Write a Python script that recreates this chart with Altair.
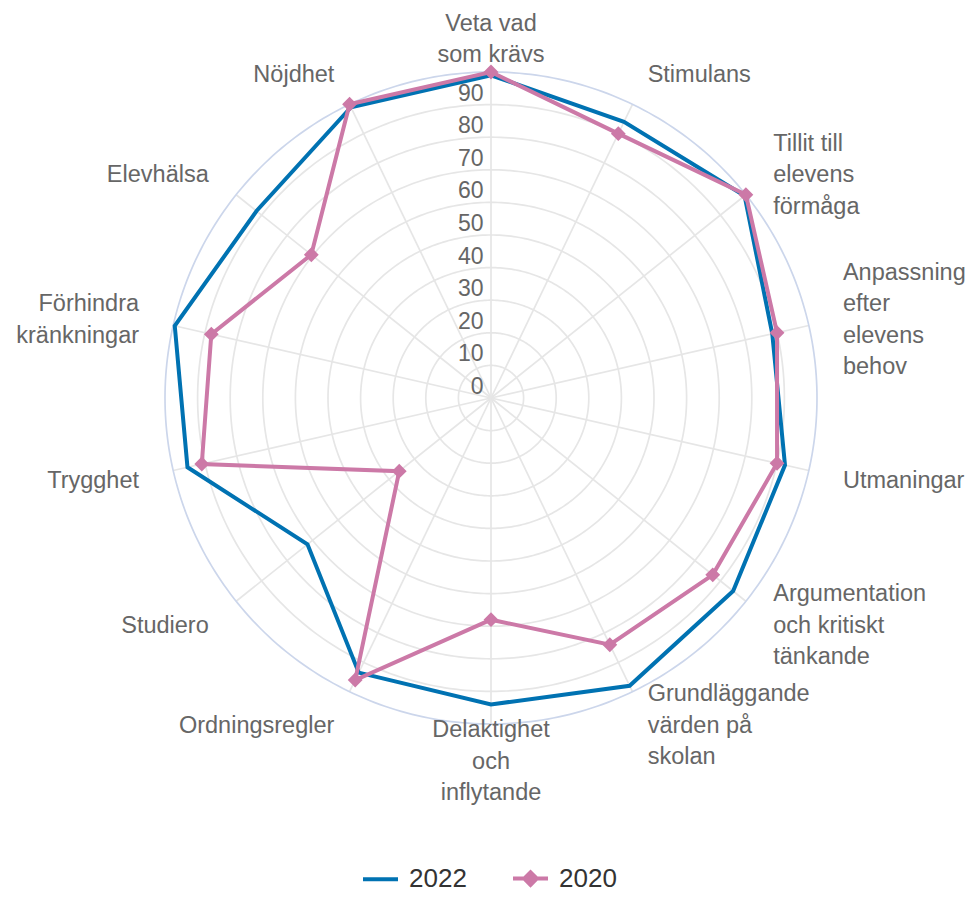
import altair as alt
import pandas as pd

# ---------------- data ----------------
categories = [
    "Veta vad som krävs", "Stimulans", "Tillit till elevens förmåga",
    "Anpassning efter elevens behov", "Utmaningar",
    "Argumentation och kritiskt tänkande", "Grundläggande värden på skolan",
    "Delaktighet och inflytande", "Ordningsregler", "Studiero", "Trygghet",
    "Förhindra kränkningar", "Elevhälsa", "Nöjdhet",
]
category_labels = [
    "Veta vad\nsom krävs", "Stimulans", "Tillit till\nelevens\nförmåga",
    "Anpassning\nefter\nelevens\nbehov", "Utmaningar",
    "Argumentation\noch kritiskt\ntänkande", "Grundläggande\nvärden på\nskolan",
    "Delaktighet\noch\ninflytande", "Ordningsregler", "Studiero", "Trygghet",
    "Förhindra\nkränkningar", "Elevhälsa", "Nöjdhet",
]
values_2022 = [99, 94, 99.5, 88.5, 92.5, 95, 98, 94, 93.5, 72, 95.5, 99.5, 92, 99]
values_2020 = [100, 90, 100, 90, 90, 87, 84, 68, 96, 36, 91, 88, 70.5, 100]
series_names = ["2022", "2020"]
series_colors = ["#0072b2", "#cc79a7"]
ring_values = [10, 20, 30, 40, 50, 60, 70, 80, 90]
axis_max = [100]
tick_values = [0, 10, 20, 30, 40, 50, 60, 70, 80, 90]

# ---------------- geometry ----------------
K = 3.26           # pixels per unit
W, H = 957, 884
CX, CY = 483, 390  # centre in plot coordinates
R_LABEL = 361 / K
LINE_H = 31.5
n = len(categories)

xscale = alt.Scale(domain=[-CX / K, (W - CX) / K], nice=False, zero=False)
yscale = alt.Scale(domain=[-(H - CY) / K, CY / K], nice=False, zero=False)
X = alt.X("px:Q", scale=xscale, axis=None)
Y = alt.Y("py:Q", scale=yscale, axis=None)

color_scale = alt.Scale(domain=series_names, range=series_colors)
shape_scale = alt.Scale(
    domain=series_names,
    range=["M-1,0L1,0", "M-1,0L1,0M-0.36,0L0,-0.36L0.36,0L0,0.36Z"],
)

leg = alt.Legend(
    title=None, orient="none", legendX=353, legendY=851,
    direction="horizontal", symbolSize=1225, symbolStrokeWidth=4,
    labelFontSize=26, labelColor="#333333", labelFont="Liberation Sans",
    columnPadding=38, labelOffset=9, padding=0,
)

rows = []
for s, vals in zip(series_names, [values_2022, values_2020]):
    for i, (c, v) in enumerate(zip(categories, vals)):
        rows.append({"series": s, "category": c, "idx": i, "value": v})
df = pd.DataFrame(rows)

cat_df = pd.DataFrame({
    "idx": list(range(n)),
    "label": category_labels,
    "nlines": [lab.count("\n") + 1 for lab in category_labels],
})

ANG = f"datum.idx * 2 * PI / {n}"

# rings
def rings(vals, color):
    return (
        alt.Chart(pd.DataFrame({"r": vals}))
        .transform_calculate(deg="sequence(0, 361, 1)")
        .transform_flatten(["deg"])
        .transform_calculate(
            px="datum.r * sin(datum.deg * PI / 180)",
            py="datum.r * cos(datum.deg * PI / 180)",
        )
        .mark_line(color=color, strokeWidth=1.7)
        .encode(x=X, y=Y, detail="r:N", order="deg:Q")
    )

grid_rings = rings(ring_values, "#e6e6e6")
outer_ring = rings(axis_max, "#ccd6eb")

spokes = (
    alt.Chart(cat_df)
    .transform_calculate(ang=ANG)
    .transform_calculate(
        x0="0", y0="0",
        px=f"{axis_max[0]} * sin(datum.ang)",
        py=f"{axis_max[0]} * cos(datum.ang)",
    )
    .mark_rule(color="#e6e6e6", strokeWidth=1.7)
    .encode(
        x=alt.X("x0:Q", scale=xscale, axis=None),
        y=alt.Y("y0:Q", scale=yscale, axis=None),
        x2="px:Q",
        y2="py:Q",
    )
)

ticks = (
    alt.Chart(pd.DataFrame({"v": tick_values}))
    .transform_calculate(px="0", py="datum.v", lab="'' + datum.v")
    .mark_text(align="right", baseline="alphabetic", dx=-7.5, dy=-4,
               font="Liberation Sans", fontSize=23, color="#666666")
    .encode(x=X, y=Y, text="lab:N")
)

base = (
    alt.Chart(df)
    .transform_calculate(ang=ANG)
    .transform_calculate(
        px="datum.value * sin(datum.ang)",
        py="datum.value * cos(datum.ang)",
    )
)

def series_line(name):
    return (
        base.transform_filter(alt.datum.series == name)
        .mark_line(interpolate="linear-closed", strokeWidth=4)
        .encode(
            x=X, y=Y,
            stroke=alt.Stroke("series:N", scale=color_scale, legend=leg),
            order="idx:Q",
        )
    )

line_2022 = series_line("2022")
line_2020 = series_line("2020")

markers = (
    base.transform_filter(alt.datum.series == "2020")
    .mark_point(filled=True, opacity=1)
    .encode(
        x=X, y=Y,
        fill=alt.Fill("series:N", scale=color_scale, legend=leg),
        shape=alt.Shape("series:N", scale=shape_scale, legend=leg),
        size=alt.value(1700),
    )
)

# category labels: block vertically centred on the anchor point
lab_base = (
    alt.Chart(cat_df)
    .transform_calculate(ang=ANG)
    .transform_calculate(
        px=f"{R_LABEL} * sin(datum.ang)",
        py=f"{R_LABEL} * cos(datum.ang) + (datum.nlines - 1) * {LINE_H / 2 / K}",
        s="sin(datum.ang)",
    )
)

def labels(cond, align):
    return (
        lab_base.transform_filter(cond)
        .mark_text(align=align, baseline="middle", lineBreak="\n", lineHeight=LINE_H,
                   dy=2.5, font="Liberation Sans", fontSize=23.5, color="#666666")
        .encode(x=X, y=Y, text="label:N")
    )

labels_left = labels("datum.s > 0.01", "left")
labels_right = labels("datum.s < -0.01", "right")
labels_center = labels("abs(datum.s) <= 0.01", "center")

chart = (
    alt.layer(
        grid_rings, spokes, outer_ring, ticks,
        line_2022, line_2020, markers,
        labels_left, labels_right, labels_center,
    )
    .properties(width=W, height=H, autosize=alt.AutoSizeParams(type="none"), padding=0,
                background="white")
    .configure_view(strokeWidth=0)
)

chart.save("out.html", embed_options={"renderer": "svg", "actions": False})
